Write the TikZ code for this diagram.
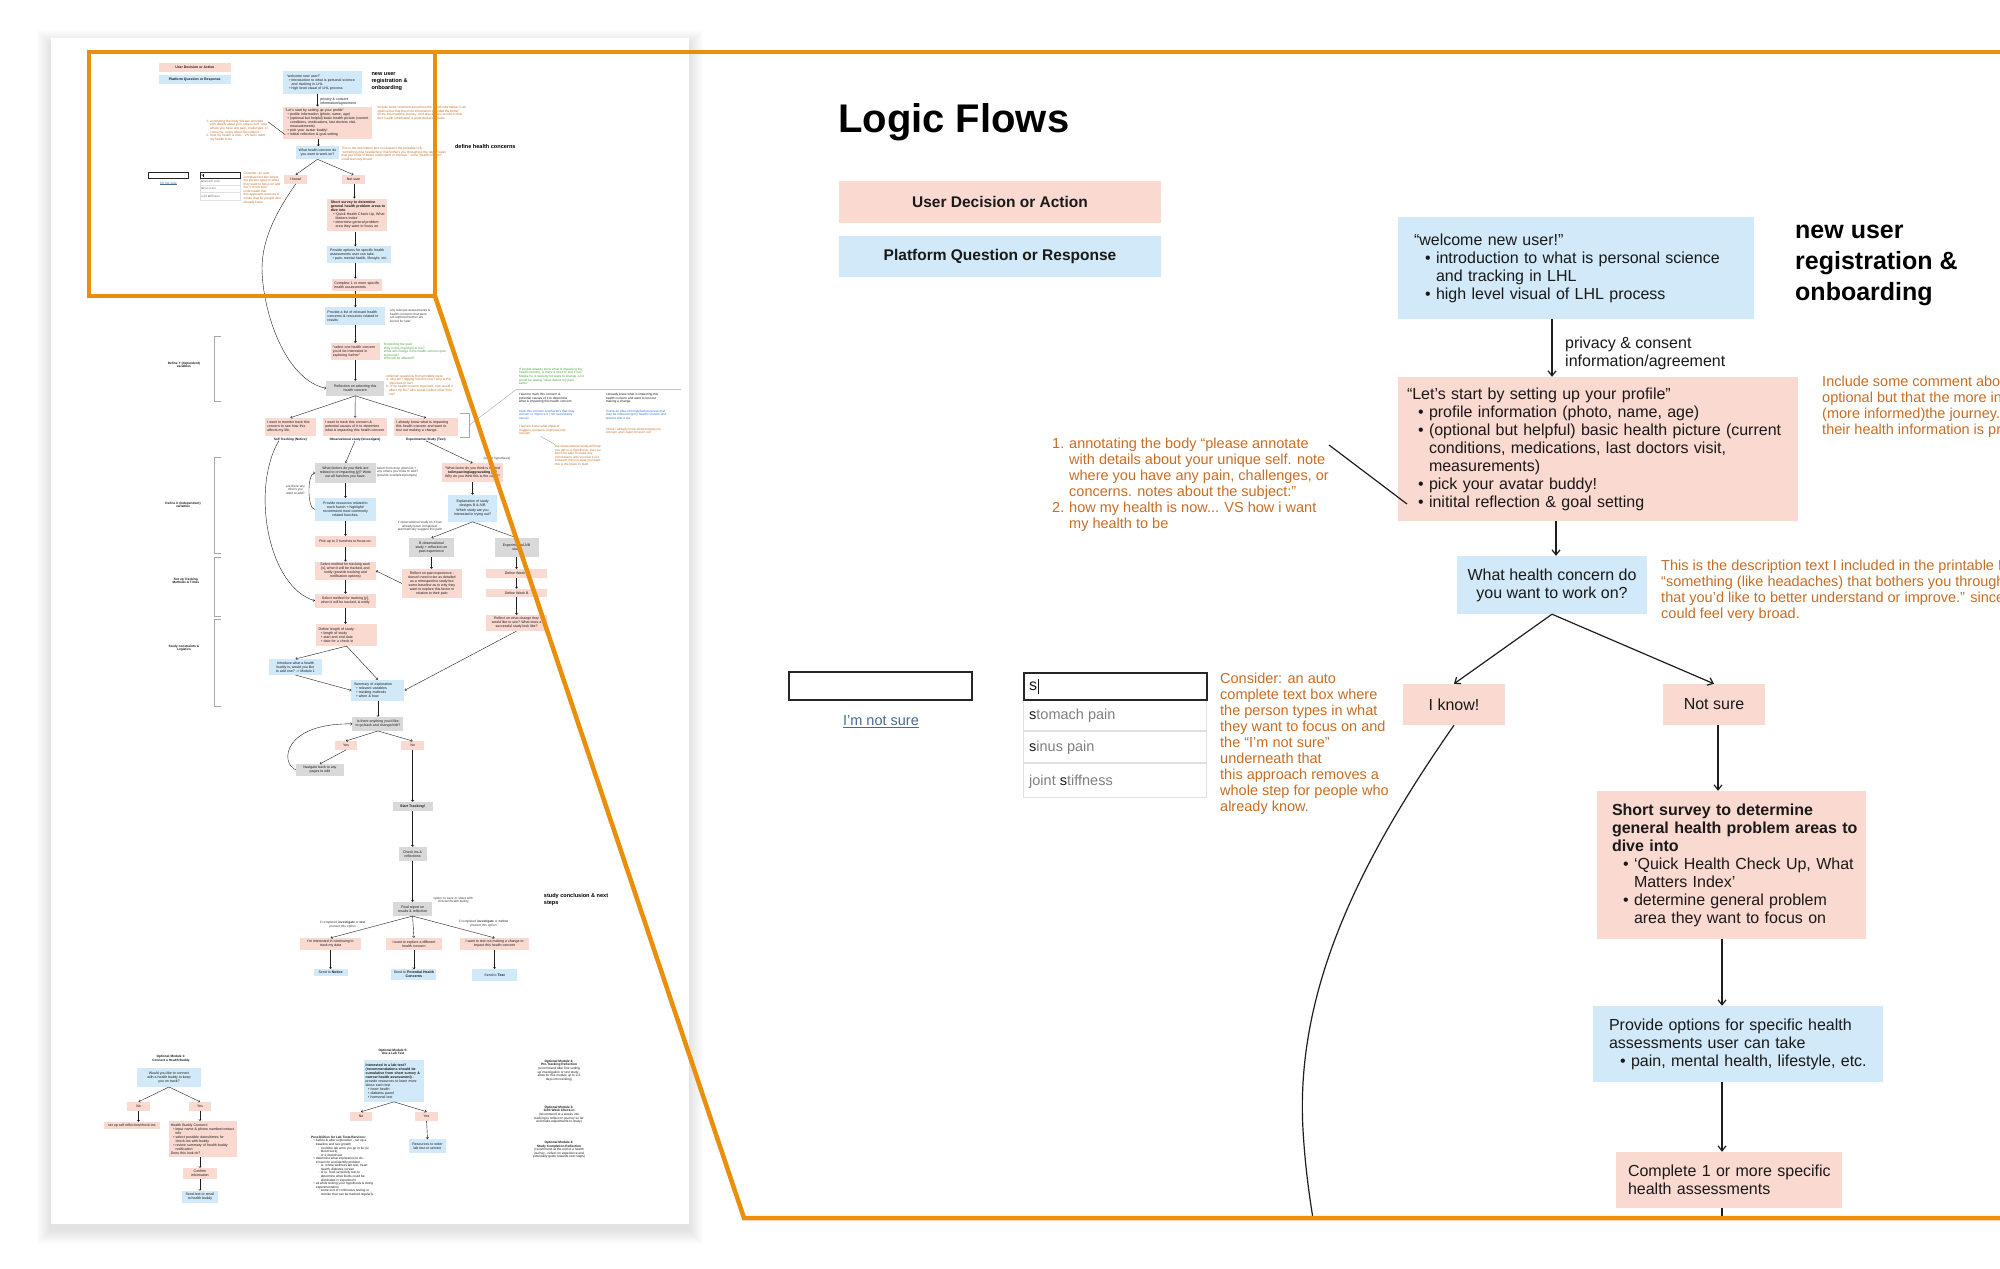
\documentclass[tikz,border=0pt]{standalone}
\usepackage{fontspec}
\setmainfont{Liberation Sans}
\usetikzlibrary{arrows.meta}
\definecolor{pk}{RGB}{250,217,208}
\definecolor{bl}{RGB}{209,233,248}
\definecolor{gy}{RGB}{217,217,217}
\definecolor{tx}{RGB}{25,25,25}
\definecolor{ot}{RGB}{198,110,38}
\definecolor{gt}{RGB}{80,160,60}
\definecolor{bt}{RGB}{60,110,200}
\definecolor{fr}{RGB}{233,143,12}
\definecolor{lk}{RGB}{72,108,140}
\definecolor{ln}{RGB}{30,30,30}
\newcommand\fA{\fontsize{16}{18}\selectfont}
\newcommand\fN{\fontsize{14.5}{16}\selectfont}
\newcommand\fL{\fontsize{15.5}{18}\selectfont\bfseries}
\newcommand\fH{\fontsize{25}{31}\selectfont\bfseries}
\newcommand\bl[1]{\hspace*{11pt}\makebox[11pt][l]{\textbullet}#1}
\newcommand\bc[1]{\hspace*{22pt}#1}
\newcommand\sbl[1]{\hspace*{33pt}\makebox[11pt][l]{◦}#1}
\newcommand\sbc[1]{\hspace*{44pt}#1}
\newcommand\mylw{1.2pt}
\newcommand\mythick{1.6pt}
\newcommand\arrL{5pt}
\newcommand\arrW{8pt}
\newcommand\bx[8]{\node[#2,minimum width=#5pt,minimum height=#6pt,text width=#5pt,inner sep=0pt,align=left] (#1) at (#3,#4) {\leftskip=#7pt\relax #8\par};}
\newcommand\cbx[7]{\node[#2,minimum width=#5pt,minimum height=#6pt,inner sep=0pt,align=center] (#1) at (#3,#4) {#7};}
\tikzset{
 pinkbox/.style={fill=pk,text=tx,font=\fA},
 bluebox/.style={fill=bl,text=tx,font=\fA},
 graybox/.style={fill=gy,text=tx,font=\fA},
 note/.style={anchor=north west,inner sep=0pt,align=left,font=\fN},
 lbl/.style={inner sep=0pt,align=center,font=\fN\bfseries,text=tx},
 conn/.style={draw=ln,line width=\mylw},
 arr/.style={conn,-{Straight Barb[length=\arrL,width=\arrW]}},
 brk/.style={draw=black!35,line width=\mylw},
}
% ===== upper part: the region shown enlarged =====
\newcommand\flowupper{%
\cbx{lgA}{pinkbox,font=\fL}{1000}{202}{322}{42}{User Decision or Action}
\cbx{lgB}{bluebox,font=\fL}{1000}{256.5}{322}{41}{Platform Question or Response}
\bx{welcome}{bluebox}{1576}{268}{356}{102}{16}{“welcome new user!”\\\bl{introduction to what is personal science}\\\bc{and tracking in LHL}\\\bl{high level visual of LHL process}}
\node[anchor=north west,inner sep=0pt,align=left,font=\fH,text=black] (hnew) at (1795,217) {\strut new user\\registration \&\\onboarding};
\coordinate (ax1) at (1552,0);
\bx{profile}{pinkbox}{1598}{449}{400}{144}{9}{“Let’s start by setting up your profile”\\\bl{profile information (photo, name, age)}\\\bl{(optional but helpful) basic health picture (current}\\\bc{conditions, medications, last doctors visit,}\\\bc{measurements)}\\\bl{pick your avatar buddy!}\\\bl{initital reflection \& goal setting}}
\draw[arr] (welcome.south -| ax1) -- (profile.north -| ax1);
\node[note,font=\fA,text=tx] (privacy) at (1565,335.6) {\strut privacy \& consent\\information/agreement};
\node[note,text=ot] (commentnote) at (1822,374.6) {\strut Include some comment about how the health information is all\\optional but that the more information provided the better\\(more informed)the journey. And also a place to inform that\\their health information is protected and private.};
\node[note,text=ot] (anno) at (1052,436.6) {\strut\makebox[17pt][l]{1.}annotating the body “please annotate\\\hspace*{17pt}with details about your unique self. note\\\hspace*{17pt}where you have any pain, challenges, or\\\hspace*{17pt}concerns. notes about the subject:”\\\makebox[17pt][l]{2.}how my health is now... VS how i want\\\hspace*{17pt}my health to be};
\coordinate (annoA) at (1329,445);
\coordinate (annoB) at (1407,504);
\draw[conn] (annoA) -- (annoB);
\coordinate (ax2) at (1556,0);
\cbx{health}{bluebox}{1552}{585}{190}{58}{What health concern do\\you want to work on?}
\draw[arr] (profile.south -| ax2) -- (health.north -| ax2);
\node[note,text=ot] (descnote) at (1661,558.6) {\strut This is the description text I included in the printable LHL:\\“something (like headaches) that bothers you throughout the day or week\\that you’d like to better understand or improve.” since “health concern”\\could feel very broad.};
\cbx{iknow}{pinkbox}{1454}{704.5}{102}{41}{I know!}
\cbx{notsure}{pinkbox}{1714}{704.5}{102}{41}{Not sure}
\draw[arr] (health.south) -- (iknow.north);
\draw[arr] (health.south) -- (notsure.north);
\node[draw=black!85,line width=\mythick,fill=white,minimum width=183pt,minimum height=28pt,inner sep=0pt] (inbox) at (880.5,686) {};
\node[font=\fN,text=lk,inner sep=0pt] (imnot) at (881,722) {\underline{I’m not sure}};
\node[draw=black!12,fill=white,line width=\mylw,minimum width=183pt,minimum height=98pt,inner sep=0pt,anchor=north west] (dd) at (1023,699) {};
\node[draw=black!85,line width=\mythick,fill=white,minimum width=183pt,minimum height=27pt,inner sep=0pt,anchor=north west] (acin) at (1023,672) {};
\node[anchor=west,font=\fA,text=tx,inner sep=0pt] (actext) at (1029,686) {s\hspace{1pt}\rule[-3pt]{0.9pt}{15pt}};
\coordinate (sep1) at (0,731);
\coordinate (sep2) at (0,763);
\draw[black!12,line width=\mylw] (dd.west |- sep1) -- (dd.east |- sep1);
\draw[black!12,line width=\mylw] (dd.west |- sep2) -- (dd.east |- sep2);
\node[anchor=west,font=\fN,text=black!50,inner sep=0pt] (it1) at (1029,716) {\textcolor{tx}{s}tomach pain};
\node[anchor=west,font=\fN,text=black!50,inner sep=0pt] (it2) at (1029,748) {\textcolor{tx}{s}inus pain};
\node[anchor=west,font=\fN,text=black!50,inner sep=0pt] (it3) at (1029,782) {joint \textcolor{tx}{s}tiffness};
\node[note,text=ot] (consider) at (1220,671.6) {\strut Consider: an auto\\complete text box where\\the person types in what\\they want to focus on and\\the “I’m not sure”\\underneath that\\this approach removes a\\whole step for people who\\already know.};
\coordinate (ax3) at (1718,0);
\bx{survey}{pinkbox}{1731.5}{865}{269}{148}{15}{\textbf{Short survey to determine}\\\textbf{general health problem areas to}\\\textbf{dive into}\\\bl{‘Quick Health Check Up, What}\\\bc{Matters Index’}\\\bl{determine general problem}\\\bc{area they want to focus on}}
\draw[arr] (notsure.south -| ax3) -- (survey.north -| ax3);
\coordinate (ax4) at (1722,0);
\bx{provide}{bluebox}{1738}{1044}{290}{76}{16}{Provide options for specific health\\assessments user can take\\\bl{pain, mental health, lifestyle, etc.}}
\draw[arr] (survey.south -| ax4) -- (provide.north -| ax4);
\bx{complete}{pinkbox}{1729}{1180}{226}{56}{12}{Complete 1 or more specific\\health assessments}
\draw[arr] (provide.south -| ax4) -- (complete.north -| ax4);
}
% ===== links from the upper part into the lower part =====
\newcommand\flowlinks{%
\draw[arr] (complete.south -| ax4) -- (list.north -| ax4);
\coordinate (cv1) at (1303,1130);
\draw[arr] (iknow.south) .. controls (1360,860) and (1295,990) .. (cv1) .. controls (1315,1340) and (1420,1610) .. (refl.west);
}
% ===== lower part: only on the overview page =====
\newcommand\flowlower{%
\node[anchor=west,inner sep=0pt,font=\fH,text=black] (hdefine) at (2171,558) {define health concerns};
\bx{list}{bluebox}{1722}{1320}{270}{81}{10}{Provide a list of relevant health\\concerns \& resources related to\\results}
\node[note,text=black!75] (listnote) at (1878,1288) {\strut any relevant assessments \&\\health concerns that were\\not explored further are\\stored for later};
\bx{select}{pinkbox}{1722}{1479}{221}{76}{10}{“select one health concern\\you’d be interested in\\exploring further”}
\draw[arr] (list.south -| ax4) -- (select.north -| ax4);
\node[note,text=gt] (goalnote) at (1851,1441) {\strut Reminding the goal:\\Why is this important to me?\\What will change if this health concern gets\\improved?\\Who will be affected?};
\cbx{refl}{graybox}{1722}{1645}{261}{67}{Reflection on selecting this\\health concern}
\draw[arr] (select.south -| ax4) -- (refl.north -| ax4);
\node[note,text=ot] (reflnote) at (1862,1584) {\strut reflection questions from printable were:\\a. why am I digging into this now? why is this\\\hspace*{12pt}important to me?\\b. if my health concern improved, how would it\\\hspace*{12pt}affect my life? who would it affect other than\\\hspace*{12pt}me?};
\draw[brk] (1120,1409) -- (1086,1409) -- (1086,1702) -- (1120,1702);
\node[lbl] (ylbl) at (951,1540) {Define Y (dependent)\\variables};
\bx{notice}{pinkbox}{1430}{1818}{229}{81}{10}{I want to monitor track this\\concern to see how this\\affects my life.}
\bx{investigate}{pinkbox}{1721}{1818}{288}{81}{10}{I want to track this concern \&\\potential causes of it to determine\\what is impacting this health concern}
\bx{testbox}{pinkbox}{2040}{1818}{288}{81}{10}{I already know what is impacting\\this health concern and want to\\test out making a change.}
\draw[arr] (refl.south) -- (notice.north);
\draw[arr] (refl.south) -- (investigate.north);
\draw[arr] (refl.south) -- (testbox.north);
\node[lbl] (lblnotice) at (1430,1874) {Self Tracking (Notice)};
\node[lbl] (lblinv) at (1721,1874) {Observational study (Investigate)};
\node[lbl] (lbltest) at (2040,1874) {Experimental Study (Test)};
\draw[brk] (2192,1757) -- (2234,1757) -- (2234,1866) -- (2192,1866);
\coordinate (bk1) at (2234,1812);
\coordinate (bk2) at (2445,1651);
\coordinate (bk3) at (3188,1651);
\draw[brk] (bk1) -- (bk2) -- (bk3);
\node[note,text=gt] (peoplenote) at (2459,1553) {\strut If people already know what is impacting the\\health concern, is there a need to test it out?\\Maybe he is seeking for ways to change, so it\\would be testing “what makes my pain\\better”};
\node[note,text=tx] (c1a) at (2459,1666) {\strut I want to track this concern \&\\potential causes of it to determine\\what is impacting this health concern};
\node[note,text=bt] (c1b) at (2459,1742) {\strut track this concern and factors that may\\worsen or improve it ( not necessarily\\cause)};
\node[note,text=ot] (c1c) at (2459,1810) {\strut I want to know what impacts\\(triggers, worsens, improves) my\\concern};
\node[note,text=tx] (c2a) at (2850,1666) {\strut I already know what is impacting this\\health concern and want to test out\\making a change.};
\node[note,text=bt] (c2b) at (2850,1742) {\strut I have an idea of things/factors/areas that\\may be influencing my health concern and\\want to test it out};
\node[note,text=ot] (c2c) at (2850,1823) {\strut I think i already know what impacts my\\concern and I want to test it out};
\coordinate (ob1) at (2556,1861);
\coordinate (ob2) at (2621,1898);
\draw[brk] (ob1) -- (ob2);
\node[note,text=ot] (obsnote) at (2621,1900) {\strut the observational study will help\\you get to a hypothesis, but you\\won’t be able to make any\\conclusions until you test it out.\\however if this is what you want -\\this is the place to start.};
\cbx{factors}{graybox}{1678}{2026}{274}{90}{What factors do you think are\\related to or impacting [y]? Write\\out all hunches you have.}
\draw[arr] (lblinv.south) -- (factors.north);
\node[note,text=black!75] (factorsnote) at (1820,1998) {\strut select from drop down list +\\any others you’d like to add?\\(provide examples/prompts)};
\cbx{hunches}{bluebox}{1678}{2190}{274}{104}{Provide resources related to\\each hunch + highlight/\\recommend most commonly\\related hunches.}
\draw[arr] (factors.south) -- (hunches.north);
\draw[arr] (hunches.west) .. controls (1505,2190) and (1505,2026) .. (factors.west);
\node[note,align=center,anchor=north,text=black!75] (others) at (1453,2078) {\strut are there any\\others you\\want to add?};
\cbx{pick}{pinkbox}{1678}{2334}{274}{50}{Pick up to 3 hunches to focus on.}
\cbx{trackx}{pinkbox}{1678}{2466}{274}{82}{Select method for tracking each\\{[x]}, when it will be tracked, and\\notify (provide tracking and\\notification options)}
\cbx{tracky}{pinkbox}{1678}{2601}{274}{63}{Select method for tracking [y],\\when it will be tracked, \& notify}
\bx{length}{pinkbox}{1683}{2755}{275}{99}{12}{Define length of study:\\\bl{length of study}\\\bl{start and end date}\\\bl{date for a check in}}
\draw[arr] (hunches.south) -- (pick.north);
\draw[arr] (pick.south) -- (trackx.north);
\draw[arr] (trackx.south) -- (tracky.north);
\draw[arr] (tracky.south) -- (tracky.south |- length.north);
\draw[arr] ([xshift=-52pt]lblnotice.south) .. controls (1250,2100) and (1330,2540) .. (tracky.west);
\cbx{buddy}{bluebox}{1453}{2899}{238}{72}{Introduce what a health\\buddy is, would you like\\to add one? -> Module 1}
\bx{summary}{bluebox}{1824}{3004}{239}{95}{12}{Summary of exploration\\\bl{relevant variables}\\\bl{tracking methods}\\\bl{when \& how}}
\draw[arr] (length.south) -- (buddy.north);
\draw[arr] (length.south) -- (summary.north);
\draw[arr] (buddy.south) -- (summary.west);
\cbx{anything}{graybox}{1824}{3155}{230}{63}{Is there anything you’d like\\to go back and change/edit?}
\draw[arr] (summary.south) -- (anything.north);
\cbx{yes1}{pinkbox}{1680}{3252}{99}{40}{Yes}
\cbx{no1}{pinkbox}{1980}{3252}{103}{40}{No}
\draw[arr] (anything.south) -- (yes1.north);
\draw[arr] (anything.south) -- (no1.north);
\cbx{navigate}{graybox}{1563}{3362}{216}{54}{Navigate back to any\\pages to edit}
\draw[arr] (yes1.south) -- (navigate.north);
\draw[arr] (navigate.west) .. controls (1380,3330) and (1400,3150) .. (anything.west);
\cbx{start}{graybox,font=\fA\bfseries}{1980}{3526}{180}{40}{Start Tracking!}
\draw[arr] (no1.south) -- (start.north);
\cbx{checkins}{graybox}{1980}{3740}{126}{63}{Check ins \&\\reflections}
\draw[arr] (start.south) -- (checkins.north);
\cbx{final}{graybox}{1980}{3988}{176}{63}{Final report on\\results \& reflection}
\draw[arr] (checkins.south) -- (final.north);
\node[note,align=center,anchor=center,text=black!75] (finalnote) at (2163,3948) {option to save or share with\\clinician/health buddy};
\cbx{cont}{pinkbox}{1611}{4145}{275}{54}{I’m interested in continuing to\\track my data}
\cbx{explore}{pinkbox}{1986}{4145}{252}{54}{I want to explore a different\\health concern}
\cbx{change}{pinkbox}{2349}{4145}{311}{54}{I want to test out making a change to\\impact this health concern}
\draw[arr] (final.south) -- (cont.north);
\draw[arr] (final.south) -- (explore.north);
\draw[arr] (final.south) -- (change.north);
\node[note,align=center,anchor=center,text=black!75] (cond1) at (1665,4059) {if completed \textbf{investigate} or \textbf{test}\\present this option};
\node[note,align=center,anchor=center,text=black!75] (cond2) at (2299,4053) {if completed \textbf{investigate} or \textbf{notice}\\present this option};
\cbx{snotice}{bluebox}{1611}{4274}{153}{32}{Send to \textbf{Notice}}
\cbx{sphc}{bluebox}{1986}{4283}{202}{49}{Send to \textbf{Potential Health}\\\textbf{Concerns}}
\cbx{stest}{bluebox}{2349}{4285}{202}{54}{Send to \textbf{Test}}
\draw[arr] (cont.south) -- (snotice.north);
\draw[arr] (explore.south) -- (sphc.north);
\draw[arr] (change.south) -- (stest.north);
\cbx{hypo}{pinkbox}{2250}{2024}{275}{86}{“What factor do you think is related\\\textbf{to/impacting/aggravating} [y]?\\Why do you think this is the case?”}
\node[note,anchor=center,text=black!75] (selhyp) at (2360,1963) {(select hypothesis)};
\draw[arr] (lbltest.south) -- (hypo.north);
\cbx{design}{bluebox}{2250}{2185}{221}{121}{Explanation of study\\designs B \& A/B\\[6pt]Which study are you\\interested in trying out?}
\draw[arr] (hypo.south) -- (design.north);
\node[note,align=center,anchor=north,text=black!75] (obspath) at (2013,2242) {\strut if observational study on X has\\already been completed,\\automatically suggest this path};
\cbx{bobs}{graybox}{2065}{2361}{202}{86}{B observational\\study + reflection on\\past experience}
\cbx{abgray}{graybox}{2448}{2361}{198}{86}{Experimental A/B\\study}
\draw[arr] (design.south) -- (bobs.north);
\draw[arr] (design.south) -- (abgray.north);
\cbx{reflpast}{pinkbox}{2067}{2523}{270}{130}{Reflect on past experience -\\doesn’t need to be as detailed\\as a retrospective study but\\some baseline as to why they\\want to explore this factor in\\relation to their pain}
\draw[arr] (bobs.south) -- (bobs.south |- reflpast.north);
\draw[arr] (reflpast.west) -- (trackx.east);
\cbx{weekA}{pinkbox}{2448}{2478}{275}{40}{Define Week A}
\cbx{weekB}{pinkbox}{2448}{2566}{275}{38}{Define Week B}
\cbx{success}{pinkbox}{2448}{2701}{275}{72}{Reflect on what change they\\would like to see? What does a\\successful study look like?}
\draw[arr] (abgray.south) -- (weekA.north);
\draw[arr] (weekA.south) -- (weekB.north);
\draw[arr] (weekB.south) -- (success.north);
\draw[arr] (success.south) -- (summary.east);
\draw[brk] (1120,1954) -- (1086,1954) -- (1086,2386) -- (1120,2386);
\node[lbl] (xlbl) at (947,2170) {Define X (independent)\\variables};
\draw[brk] (1120,2404) -- (1086,2404) -- (1086,2669) -- (1120,2669);
\node[lbl] (tlbl) at (960,2512) {Set up Tracking\\Methods \& Times};
\draw[brk] (1120,2683) -- (1086,2683) -- (1086,3074) -- (1120,3074);
\node[lbl] (clbl) at (951,2814) {Study constraints \&\\Logistics};
\node[anchor=north west,inner sep=0pt,align=left,font=\fH,text=black] (hconcl) at (2571,3914) {\strut study conclusion \& next\\steps};
\node[lbl] (m1t) at (893,4661) {Optional Module 1:\\Connect a Health Buddy};
\cbx{m1q}{bluebox}{884}{4746}{288}{85}{Would you like to connect\\with a health buddy to keep\\you on track?}
\cbx{m1no}{pinkbox}{747}{4876}{103}{41}{No}
\cbx{m1yes}{pinkbox}{1023}{4876}{99}{41}{Yes}
\draw[arr] (m1q.south) -- (m1no.north);
\draw[arr] (m1q.south) -- (m1yes.north);
\cbx{m1self}{pinkbox}{717}{4962}{252}{32}{set up self reflection/check-ins}
\bx{m1con}{pinkbox}{1037}{5023}{306}{162}{8}{Health Buddy Connect:\\\bl{input name \& phone number/contact}\\\bc{info}\\\bl{select possible dates/times for}\\\bc{check-ins with buddy}\\\bl{review summary of health buddy}\\\bc{notification}\\Does this look ok?}
\draw[arr] (m1no.south) -- (m1no.south |- m1self.north);
\draw[arr] (m1yes.south) -- (m1yes.south |- m1con.north);
\cbx{m1confirm}{pinkbox}{1023}{5178}{153}{49}{Confirm\\information}
\cbx{m1send}{bluebox}{1023}{5283}{162}{54}{Send text or email\\to health buddy}
\draw[arr] (m1con.south -| m1confirm.north) -- (m1confirm.north);
\draw[arr] (m1confirm.south) -- (m1send.north);
\node[lbl] (m5t) at (1892,4631) {Optional Module 5:\\Use a Lab Test};
\bx{m5q}{bluebox}{1896}{4761}{270}{189}{8}{\textbf{Interested in a lab test?}\\\textbf{(recommendations should be}\\\textbf{cumulative from short survey \&}\\\textbf{narrow health assessment)} -\\provide resources to learn more\\about each test\\\bl{heart health}\\\bl{diabetes panel}\\\bl{hormonal test}}
\cbx{m5no}{pinkbox}{1748}{4921}{99}{41}{No}
\cbx{m5yes}{pinkbox}{2043}{4921}{103}{41}{Yes}
\cbx{m5res}{bluebox}{2047}{5055}{166}{63}{Resources to order\\lab test or service}
\draw[arr] (m5q.south) -- (m5no.north);
\draw[arr] (m5q.south) -- (m5yes.north);
\draw[arr] (m5yes.south) -- (m5res.north);
\node[note,text=tx] (labposs) at (1523,5009) {\strut\textbf{Possibilities for Lab Tests/Services:}\\\bl{before \& after exploration - set up a}\\\bc{baseline and see growth}\\\sbl{could be lab work you go in for (ie}\\\sbc{blood work)}\\\sbl{or a worksheet}\\\bl{determine what exploration to do -}\\\bc{screen for and identify problem}\\\sbl{ie. whole wellness lab test, heart}\\\sbc{health, diabetes screen}\\\sbl{or ie. food sensitivity test to}\\\sbc{determine what foods could be}\\\sbc{eliminated in experiment}\\\bl{all while testing your hypothesis \& doing}\\\bc{experimentation}\\\sbl{some sort of continuous testing or}\\\sbc{monitor that can be tracked regularly}};
\node[note,anchor=north,align=center,text=tx] (m2) at (2639,4667) {\strut\textbf{Optional Module 2:}\\\textbf{Pre-Tracking Reflection}\\(recommend after first setting\\up investigation or test study -\\allow for this module up to 2-3\\days into tracking)};
\node[note,anchor=north,align=center,text=tx] (m3) at (2639,4874) {\strut\textbf{Optional Module 3:}\\\textbf{1/2/3 Week Check-in}\\(recommend at a weeks into\\tracking to reflect on journey so far\\and make adjustments to study)};
\node[note,anchor=north,align=center,text=tx] (m4) at (2639,5032) {\strut\textbf{Optional Module 4:}\\\textbf{Study Completion Reflection}\\(recommend at the end of a health\\journey - reflect on experience and\\potentially guide towards next steps)};
}
\begin{document}
\begin{tikzpicture}[x=1pt,y=-1pt]
\useasboundingbox (0,0) rectangle (2000,1269);
\fill[white] (0,0) rectangle (2000,1269);
% overview page with soft shadow
\foreach \i in {1,...,14} {\fill[black,opacity=0.006] ({51-\i},{38-\i+6}) rectangle ({689+\i},{1224+\i+6});}
\fill[white] (51,38) rectangle (689,1224);
\begin{scope}
 \clip (51,38) rectangle (689,1224);
 \begin{scope}[shift={(-27.4,22.8)},scale=1/4.5,transform shape]
  \def\mylw{0.4pt}\def\mythick{0.5pt}\def\arrL{1.5pt}\def\arrW{2.5pt}
  \flowupper
  \flowlower
  \flowlinks
 \end{scope}
\end{scope}
% enlarged panel
\begin{scope}
 \clip (435,52) -- (2000,52) -- (2000,1218) -- (744,1218) -- (435,296) -- cycle;
 \flowupper
 \node[minimum width=270pt,minimum height=81pt,inner sep=0pt] (list) at (1722,1320) {};
 \node[minimum width=261pt,minimum height=67pt,inner sep=0pt] (refl) at (1722,1645) {};
 \flowlinks
\end{scope}
\node[anchor=base west,inner sep=0pt,font=\fontsize{40}{48}\selectfont\bfseries,text=black] (title) at (838,132) {Logic Flows};
% zoom frame
\draw[fr,line width=4.5pt,line join=miter] (2010,52) -- (89,52) -- (89,296) -- (435,296) -- (435,52);
\draw[fr,line width=4.5pt,line join=miter] (435,296) -- (744,1218) -- (2010,1218);
\end{tikzpicture}
\end{document}
